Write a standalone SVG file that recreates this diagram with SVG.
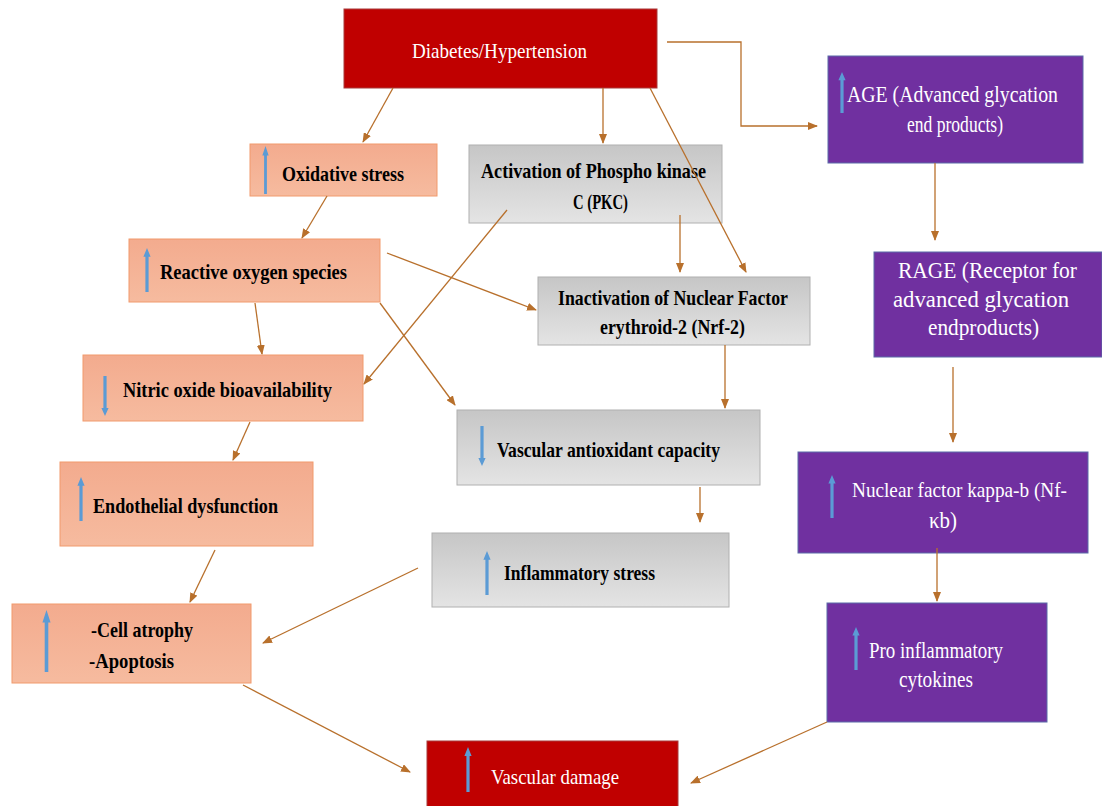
<svg xmlns="http://www.w3.org/2000/svg" width="1102" height="806" viewBox="0 0 1102 806">
<defs>
<linearGradient id="gSal" x1="0" y1="0" x2="0" y2="1"><stop offset="0" stop-color="#f3ab8e"/><stop offset="1" stop-color="#f6bb9f"/></linearGradient>
<linearGradient id="gGray" x1="0" y1="0" x2="0" y2="1"><stop offset="0" stop-color="#c6c6c6"/><stop offset="1" stop-color="#e4e4e4"/></linearGradient>
<marker id="ah" markerWidth="10" markerHeight="8" refX="9" refY="4" orient="auto" markerUnits="userSpaceOnUse"><path d="M0,0 L10,4 L0,8 Z" fill="#b8702c"/></marker>
<symbol id="up" viewBox="0 0 10 40" preserveAspectRatio="none"><path d="M5 0 L9.5 8 L7 8 L7 40 L3 40 L3 8 L0.5 8 Z" fill="#5b9bd5"/></symbol>
<symbol id="down" viewBox="0 0 10 40" preserveAspectRatio="none"><path d="M5 40 L9.5 32 L7 32 L7 0 L3 0 L3 32 L0.5 32 Z" fill="#5b9bd5"/></symbol>
</defs>
<style>
.sal{fill:url(#gSal);stroke:#f19a6c;stroke-width:1}
.gray{fill:url(#gGray);stroke:#b0b0b0;stroke-width:1}
.red{fill:#c00000;stroke:#a83a3a;stroke-width:1}
.pur{fill:#7030a0;stroke:#5a6aa8;stroke-width:1}
.tb{font-family:"Liberation Serif","Times New Roman",serif;font-weight:bold;font-size:22px;fill:#000}
.tw{font-family:"Liberation Serif","Times New Roman",serif;font-weight:normal;font-size:22px;fill:#fff}
.tp{font-size:23px}
.ts{font-size:21px}
.c{fill:none;stroke:#b8702c;stroke-width:1.3;marker-end:url(#ah)}
</style>
<rect width="1102" height="806" fill="#fff"/>

<g id="n-diabetes"><rect class="red" x="344" y="9" width="313" height="79"/><text class="tw" x="412" y="58" textLength="175" lengthAdjust="spacingAndGlyphs">Diabetes/Hypertension</text></g>

<g id="n-oxidative"><rect class="sal" x="250" y="144" width="187" height="52"/><use href="#up" x="262" y="146" width="7" height="48"/><text class="tb" x="282" y="181" textLength="122" lengthAdjust="spacingAndGlyphs">Oxidative stress</text></g>

<g id="n-pkc"><rect class="gray" x="469" y="145" width="253" height="78"/><text class="tb" x="481" y="178" textLength="225" lengthAdjust="spacingAndGlyphs">Activation of Phospho kinase</text><text class="tb" x="573" y="209" textLength="55" lengthAdjust="spacingAndGlyphs">C (PKC)</text></g>

<g id="n-ros"><rect class="sal" x="129" y="239" width="251" height="63"/><use href="#up" x="143" y="248" width="8" height="44"/><text class="tb" x="160" y="279" textLength="187" lengthAdjust="spacingAndGlyphs">Reactive oxygen species</text></g>

<g id="n-nrf"><rect class="gray" x="538" y="277" width="272" height="68"/><text class="tb" x="558" y="305" textLength="230" lengthAdjust="spacingAndGlyphs">Inactivation of Nuclear Factor</text><text class="tb" x="600" y="334" textLength="145" lengthAdjust="spacingAndGlyphs">erythroid-2 (Nrf-2)</text></g>

<g id="n-nitric"><rect class="sal" x="83" y="355" width="280" height="66"/><use href="#down" x="101" y="376" width="8" height="40"/><text class="tb" x="123" y="397" textLength="209" lengthAdjust="spacingAndGlyphs">Nitric oxide bioavailability</text></g>

<g id="n-antiox"><rect class="gray" x="457" y="410" width="303" height="75"/><use href="#down" x="478" y="426" width="8" height="40"/><text class="tb" x="497" y="457" textLength="223" lengthAdjust="spacingAndGlyphs">Vascular antioxidant capacity</text></g>

<g id="n-endo"><rect class="sal" x="60" y="462" width="253" height="84"/><use href="#up" x="77" y="477" width="8" height="44"/><text class="tb" x="93" y="513" textLength="185" lengthAdjust="spacingAndGlyphs">Endothelial dysfunction</text></g>

<g id="n-inflam"><rect class="gray" x="432" y="533" width="297" height="74"/><use href="#up" x="483" y="551" width="8" height="44"/><text class="tb" x="504" y="580" textLength="151" lengthAdjust="spacingAndGlyphs">Inflammatory stress</text></g>

<g id="n-cell"><rect class="sal" x="12" y="604" width="239" height="79"/><use href="#up" x="42" y="610" width="9" height="62"/><text class="tb" x="91" y="637" textLength="102" lengthAdjust="spacingAndGlyphs">-Cell atrophy</text><text class="tb" x="89" y="668" textLength="85" lengthAdjust="spacingAndGlyphs">-Apoptosis</text></g>

<g id="n-damage"><rect class="red" x="427" y="741" width="251" height="70"/><use href="#up" x="464" y="747" width="8" height="45"/><text class="tw" x="491" y="784" textLength="128" lengthAdjust="spacingAndGlyphs">Vascular damage</text></g>

<g id="n-age"><rect class="pur" x="828" y="56" width="255" height="107"/><use href="#up" x="838" y="72" width="8" height="41"/><text class="tw tp" x="847" y="102" textLength="211" lengthAdjust="spacingAndGlyphs">AGE (Advanced glycation</text><text class="tw tp" x="907" y="132" textLength="96" lengthAdjust="spacingAndGlyphs">end products)</text></g>

<g id="n-rage"><rect class="pur" x="874" y="252" width="228" height="105"/><text class="tw tp" x="898" y="278" textLength="179" lengthAdjust="spacingAndGlyphs">RAGE (Receptor for</text><text class="tw tp" x="893" y="307" textLength="176" lengthAdjust="spacingAndGlyphs">advanced glycation</text><text class="tw tp" x="928" y="335" textLength="111" lengthAdjust="spacingAndGlyphs">endproducts)</text></g>

<g id="n-nfkb"><rect class="pur" x="798" y="452" width="290" height="101"/><use href="#up" x="828" y="475" width="8" height="43"/><text class="tw ts" x="852" y="497" textLength="215" lengthAdjust="spacingAndGlyphs">Nuclear factor kappa-b (Nf-</text><text class="tw tp" x="929" y="528" textLength="28" lengthAdjust="spacingAndGlyphs">κb)</text></g>

<g id="n-pro"><rect class="pur" x="827" y="603" width="220" height="119"/><use href="#up" x="852" y="627" width="8" height="43"/><text class="tw tp" x="869" y="658" textLength="134" lengthAdjust="spacingAndGlyphs">Pro inflammatory</text><text class="tw tp" x="899" y="687" textLength="74" lengthAdjust="spacingAndGlyphs">cytokines</text></g>

<g id="connectors">
<line class="c" x1="393" y1="88" x2="363" y2="142"/>
<line class="c" x1="603" y1="88" x2="603" y2="143"/>
<line class="c" x1="650" y1="88" x2="746" y2="272"/>
<polyline class="c" points="667,42 741,42 741,126 817,126"/>
<line class="c" x1="327" y1="196" x2="302" y2="238"/>
<line class="c" x1="507" y1="210" x2="364" y2="384"/>
<line class="c" x1="680" y1="215" x2="680" y2="272"/>
<line class="c" x1="387" y1="253" x2="536" y2="310"/>
<line class="c" x1="380" y1="303" x2="455" y2="405"/>
<line class="c" x1="255" y1="303" x2="262" y2="354"/>
<line class="c" x1="250" y1="422" x2="233" y2="460"/>
<line class="c" x1="725" y1="345" x2="725" y2="408"/>
<line class="c" x1="700" y1="487" x2="700" y2="522"/>
<line class="c" x1="215" y1="550" x2="190" y2="602"/>
<line class="c" x1="418" y1="568" x2="263" y2="643"/>
<line class="c" x1="243" y1="685" x2="410" y2="772"/>
<line class="c" x1="935" y1="163" x2="935" y2="240"/>
<line class="c" x1="953" y1="367" x2="953" y2="442"/>
<line class="c" x1="937" y1="548" x2="937" y2="601"/>
<line class="c" x1="827" y1="722" x2="691" y2="783"/>
</g>
</svg>
